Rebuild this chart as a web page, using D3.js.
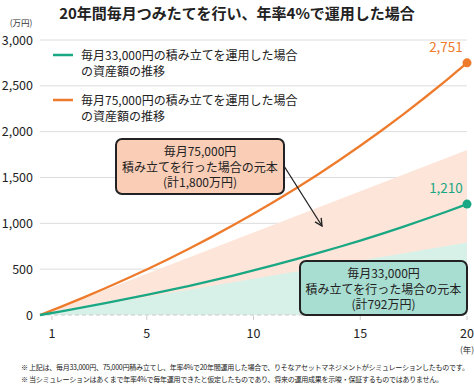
<!DOCTYPE html>
<html>
<head>
<meta charset="utf-8">
<script src="https://cdn.jsdelivr.net/npm/d3@7"></script>
<style>
  body { margin: 0; background: #fff; }
  svg { font-family: "Noto Sans CJK JP", "Noto Sans", sans-serif; }
</style>
</head>
<body>
<div class="vis-container"></div>
<script>
// years 0..20
var years = [0,1,2,3,4,5,6,7,8,9,10,11,12,13,14,15,16,17,18,19,20];
// 毎月33,000円 (万円)
var green33 = [0,40,82,126,172,219,268,319,373,428,486,546,609,674,742,812,886,962,1042,1124,1210];
// 毎月75,000円 (万円)
var orange75 = [0,92,187,286,390,497,609,726,847,973,1104,1241,1383,1531,1685,1846,2013,2186,2367,2555,2751];
// 元本
var principal33 = [0,792];
var principal75 = [0,1800];
var principalYears = [0,20];

var yTicks = [0,500,1000,1500,2000,2500,3000];
var xTickValues = [0.56,5,10,15,20];
var xTickLabels = ["1","5","10","15","20"];

var width = 474, height = 385;
var green = "#1aa784", orange = "#ee7b2c";

var svg = d3.select(".vis-container").append("svg")
  .attr("width", width)
  .attr("height", height);

var x = d3.scaleLinear().domain([0,20]).range([40,467]);
var y = d3.scaleLinear().domain([0,3000]).range([315,40]);

// title
svg.append("text")
  .attr("x", 237).attr("y", 19)
  .attr("text-anchor", "middle")
  .attr("font-size", 15).attr("font-weight", "bold").attr("fill", "#222")
  .text("20年間毎月つみたてを行い、年率4%で運用した場合");

svg.append("text")
  .attr("x", 21).attr("y", 26)
  .attr("text-anchor", "middle")
  .attr("font-size", 8.5).attr("fill", "#333")
  .text("(万円)");

// grid
svg.selectAll(".grid")
  .data(yTicks.filter(function(d) { return d > 0; }))
  .enter().append("line")
  .attr("x1", 40).attr("x2", 467)
  .attr("y1", function(d) { return y(d); })
  .attr("y2", function(d) { return y(d); })
  .attr("stroke", "#dcdcdc").attr("stroke-width", 1);

svg.selectAll(".ylab")
  .data(yTicks)
  .enter().append("text")
  .attr("x", 33)
  .attr("y", function(d) { return y(d) + 4.5; })
  .attr("text-anchor", "end")
  .attr("font-size", 12.5).attr("fill", "#222")
  .text(function(d) { return d3.format(",")(d); });

// principal areas
var area = d3.area()
  .x(function(d, i) { return x(principalYears[i]); })
  .y0(y(0))
  .y1(function(d) { return y(d); });

svg.append("path").datum(principal75)
  .attr("d", area).attr("fill", "#fde6d9");
svg.append("path").datum(principal33)
  .attr("d", area).attr("fill", "#d8f1e8");

// zero line
svg.append("line")
  .attr("x1", 40).attr("x2", 467)
  .attr("y1", y(0)).attr("y2", y(0))
  .attr("stroke", "#c8c8c8").attr("stroke-dasharray", "4,3");

// x ticks
svg.selectAll(".xtick")
  .data(xTickValues)
  .enter().append("line")
  .attr("x1", function(d) { return x(d); })
  .attr("x2", function(d) { return x(d); })
  .attr("y1", y(0) + 1).attr("y2", y(0) + 5)
  .attr("stroke", "#ccc");

svg.selectAll(".xlab")
  .data(xTickValues)
  .enter().append("text")
  .attr("x", function(d) { return x(d); })
  .attr("y", 338)
  .attr("text-anchor", "middle")
  .attr("font-size", 12.5).attr("fill", "#222")
  .text(function(d, i) { return xTickLabels[i]; });

svg.append("text")
  .attr("x", 467).attr("y", 353)
  .attr("text-anchor", "middle")
  .attr("font-size", 8.5).attr("fill", "#333")
  .text("(年)");

// lines
var line = d3.line()
  .x(function(d, i) { return x(years[i]); })
  .y(function(d) { return y(d); });

svg.append("path").datum(orange75)
  .attr("d", line).attr("fill", "none")
  .attr("stroke", orange).attr("stroke-width", 2.3);
svg.append("path").datum(green33)
  .attr("d", line).attr("fill", "none")
  .attr("stroke", green).attr("stroke-width", 2.3);

// end points
[[orange75, orange], [green33, green]].forEach(function(s) {
  var last = s[0][s[0].length - 1];
  svg.append("circle")
    .attr("cx", x(20)).attr("cy", y(last)).attr("r", 4.5)
    .attr("fill", s[1]);
  svg.append("text")
    .attr("x", x(20) - 21).attr("y", y(last) - 11)
    .attr("text-anchor", "middle")
    .attr("font-size", 13.5).attr("fill", s[1])
    .text(d3.format(",")(last));
});

// legend
var legend = [
  { color: green, y: 55, lines: ["毎月33,000円の積み立てを運用した場合", "の資産額の推移"] },
  { color: orange, y: 100, lines: ["毎月75,000円の積み立てを運用した場合", "の資産額の推移"] }
];
legend.forEach(function(l) {
  svg.append("line")
    .attr("x1", 53).attr("x2", 73)
    .attr("y1", l.y).attr("y2", l.y)
    .attr("stroke", l.color).attr("stroke-width", 2.5);
  l.lines.forEach(function(t, i) {
    svg.append("text")
      .attr("x", 81).attr("y", l.y + 4.5 + i * 16)
      .attr("font-size", 12).attr("fill", "#222")
      .text(t);
  });
});

// arrow
svg.append("defs").append("marker")
  .attr("id", "arr")
  .attr("viewBox", "0 0 10 10")
  .attr("refX", 9).attr("refY", 5)
  .attr("markerWidth", 7).attr("markerHeight", 7)
  .attr("orient", "auto")
  .append("path")
  .attr("d", "M1,1 L9,5 L1,9")
  .attr("fill", "none").attr("stroke", "#222").attr("stroke-width", 1.5);

svg.append("line")
  .attr("x1", 284).attr("y1", 166)
  .attr("x2", 322).attr("y2", 226)
  .attr("stroke", "#222").attr("stroke-width", 1.3)
  .attr("marker-end", "url(#arr)");

// annotation boxes
var boxes = [
  { x: 116, y: 139, w: 168, h: 55, fill: "#f9cdb6",
    lines: ["毎月75,000円", "積み立てを行った場合の元本", "(計1,800万円)"] },
  { x: 300, y: 261, w: 167, h: 54, fill: "#a8ddd1",
    lines: ["毎月33,000円", "積み立てを行った場合の元本", "(計792万円)"] }
];
boxes.forEach(function(b) {
  svg.append("rect")
    .attr("x", b.x).attr("y", b.y)
    .attr("width", b.w).attr("height", b.h)
    .attr("rx", 6)
    .attr("fill", b.fill).attr("stroke", "#222").attr("stroke-width", 2);
  b.lines.forEach(function(t, i) {
    svg.append("text")
      .attr("x", b.x + b.w / 2).attr("y", b.y + 17 + i * 15.5)
      .attr("text-anchor", "middle")
      .attr("font-size", 12).attr("fill", "#222")
      .text(t);
  });
});

// footnotes
var notes = [
  "※ 上記は、毎月33,000円、75,000円積み立てし、年率4%で20年間運用した場合で、りそなアセットマネジメントがシミュレーションしたものです。",
  "※ 当シミュレーションはあくまで年率4%で毎年運用できたと仮定したものであり、将来の運用成果を示唆・保証するものではありません。"
];
var noteEls = notes.map(function(t, i) {
  return svg.append("text")
    .attr("x", 21).attr("y", 370 + i * 12)
    .attr("font-size", 7.3).attr("fill", "#222")
    .attr("letter-spacing", -0.3)
    .text(t);
});
// shrink the font so the longer line fits inside the picture
var fs = 7.3 * 449 / noteEls[0].node().getComputedTextLength();
noteEls.forEach(function(el) { el.attr("font-size", fs); });
</script>
</body>
</html>
